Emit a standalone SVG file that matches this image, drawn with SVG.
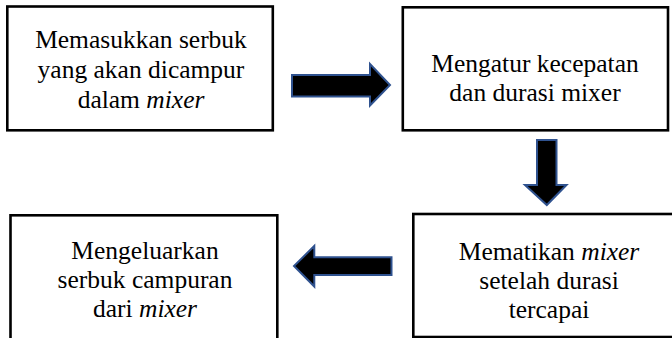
<svg xmlns="http://www.w3.org/2000/svg" width="672" height="338" viewBox="0 0 672 338">
  <style>
    .box { fill: #ffffff; stroke: #000000; stroke-width: 2.6; }
    .lbl { font-family: "Liberation Serif", "Times New Roman", serif; font-size: 25.5px; fill: #000000; text-anchor: middle; }
    .em { font-style: italic; }
    .arrow { fill: #000000; stroke: #2F528F; stroke-width: 2; stroke-linejoin: miter; }
  </style>
  <rect width="672" height="338" fill="#ffffff"/>

  <!-- step 1 -->
  <g id="node-1">
    <rect class="box" x="7.3" y="6.5" width="265.5" height="123.8"/>
    <text class="lbl" x="141" y="47.5">Memasukkan serbuk</text>
    <text class="lbl" x="141" y="78">yang akan dicampur</text>
    <text class="lbl" x="141" y="108">dalam <tspan class="em">mixer</tspan></text>
  </g>

  <!-- step 2 -->
  <g id="node-2">
    <rect class="box" x="402.8" y="7.3" width="265.2" height="123"/>
    <text class="lbl" x="535" y="72">Mengatur kecepatan</text>
    <text class="lbl" x="535" y="101">dan durasi mixer</text>
  </g>

  <!-- step 3 (right edge runs past the canvas) -->
  <g id="node-3">
    <rect class="box" x="413.3" y="214" width="270" height="123"/>
    <text class="lbl" x="549" y="260">Mematikan <tspan class="em">mixer</tspan></text>
    <text class="lbl" x="549" y="289">setelah durasi</text>
    <text class="lbl" x="549" y="317.5">tercapai</text>
  </g>

  <!-- step 4 (bottom edge runs past the canvas) -->
  <g id="node-4">
    <rect class="box" x="10.5" y="215.3" width="266.8" height="135"/>
    <text class="lbl" x="145" y="258.5">Mengeluarkan</text>
    <text class="lbl" x="145" y="287.5">serbuk campuran</text>
    <text class="lbl" x="145" y="316.5">dari <tspan class="em">mixer</tspan></text>
  </g>

  <!-- block arrows between steps -->
  <g id="connectors">
    <polygon class="arrow" points="292,75 370,75 370,64 390,85 370,105.5 370,96.5 292,96.5"/>
    <polygon class="arrow" points="537,140 556.5,140 556.5,185 566.5,185 546.8,205 525,185 537,185"/>
    <polygon class="arrow" points="391.5,257.3 314.3,257.3 314.3,246 294,266 314.3,286.5 314.3,275 391.5,275"/>
  </g>
</svg>
